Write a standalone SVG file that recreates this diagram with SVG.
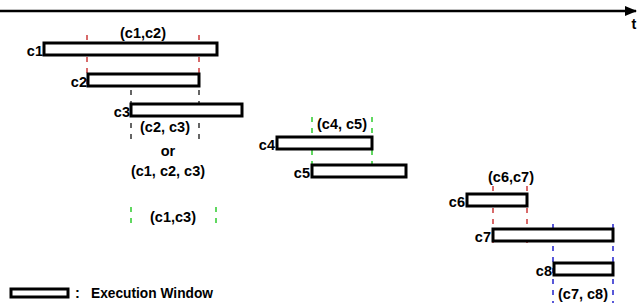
<svg xmlns="http://www.w3.org/2000/svg" width="640" height="303" viewBox="0 0 640 303">
<defs>
<marker id="arrow" markerWidth="12" markerHeight="10" refX="11" refY="5" orient="auto" markerUnits="userSpaceOnUse">
<path d="M0,0 L12,5 L0,10 Z" fill="#000"/>
</marker>
</defs>
<style>
text{font-family:"Liberation Sans",Arial,sans-serif;font-weight:bold;font-size:14.5px;fill:#000}
.lbl{text-anchor:end}
.mid{text-anchor:middle}
.win{fill:#fff;stroke:#000;stroke-width:3}
.d{stroke-width:1.5;stroke-dasharray:5,6;fill:none}
.red{stroke:#cc3a3a}
.gray{stroke:#333}
.green{stroke:#2ecc2e}
.blue{stroke:#2222cc}
</style>
<rect width="640" height="303" fill="#fff"/>
<g id="axis">
<line x1="0" y1="11" x2="636" y2="11" stroke="#000" stroke-width="2.5" marker-end="url(#arrow)"/>
<text x="634" y="29" class="mid">t</text>
</g>
<g id="connectors">
<line class="d red" x1="87" y1="35" x2="87" y2="86"/>
<line class="d red" x1="199" y1="35" x2="199" y2="86"/>
<line class="d gray" x1="131" y1="90" x2="131" y2="140"/>
<line class="d gray" x1="199" y1="90" x2="199" y2="140"/>
<line class="d green" x1="131" y1="207" x2="131" y2="228"/>
<line class="d green" x1="216" y1="207" x2="216" y2="228"/>
<line class="d green" x1="312" y1="117" x2="312" y2="178"/>
<line class="d green" x1="372" y1="117" x2="372" y2="178"/>
<line class="d red" x1="493" y1="186" x2="493" y2="243"/>
<line class="d red" x1="527" y1="186" x2="527" y2="243"/>
<line class="d blue" x1="553" y1="224" x2="553" y2="303"/>
<line class="d blue" x1="613" y1="224" x2="613" y2="303"/>
</g>
<g id="c1">
<rect class="win" x="44" y="43" width="173" height="12"/>
<text x="43" y="56" class="lbl">c1</text>
</g>
<g id="c2">
<rect class="win" x="88" y="74" width="111" height="12"/>
<text x="87" y="87" class="lbl">c2</text>
</g>
<g id="c3">
<rect class="win" x="131" y="104" width="111" height="12"/>
<text x="130" y="117" class="lbl">c3</text>
</g>
<g id="c4">
<rect class="win" x="277" y="137" width="95" height="12"/>
<text x="275" y="150" class="lbl">c4</text>
</g>
<g id="c5">
<rect class="win" x="312" y="165" width="94" height="12"/>
<text x="310" y="178" class="lbl">c5</text>
</g>
<g id="c6">
<rect class="win" x="467" y="194" width="60" height="12"/>
<text x="465" y="207" class="lbl">c6</text>
</g>
<g id="c7">
<rect class="win" x="493" y="229" width="120" height="12"/>
<text x="491" y="242" class="lbl">c7</text>
</g>
<g id="c8">
<rect class="win" x="554" y="263" width="59" height="12"/>
<text x="552" y="276" class="lbl">c8</text>
</g>
<g id="labels">
<text x="143" y="38" class="mid">(c1,c2)</text>
<text x="165" y="132" class="mid">(c2, c3)</text>
<text x="168" y="156" class="mid">or</text>
<text x="168" y="176" class="mid">(c1, c2, c3)</text>
<text x="173" y="222" class="mid">(c1,c3)</text>
<text x="342" y="129" class="mid">(c4, c5)</text>
<text x="511" y="182" class="mid">(c6,c7)</text>
<text x="583" y="299" class="mid">(c7, c8)</text>
</g>
<g id="legend">
<rect class="win" x="11" y="289" width="57" height="8"/>
<text x="75" y="298">:</text>
<text x="91" y="298" textLength="122" lengthAdjust="spacingAndGlyphs">Execution Window</text>
</g>
</svg>
